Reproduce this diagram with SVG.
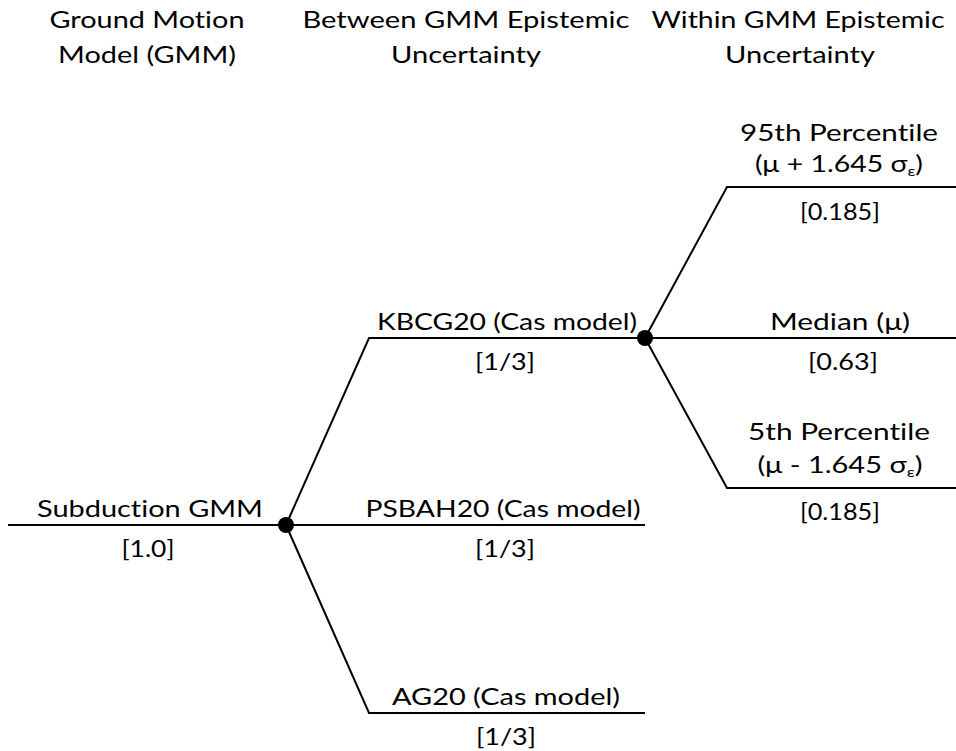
<svg xmlns="http://www.w3.org/2000/svg" width="956" height="751" viewBox="0 0 956 751">
<style>
text{font-family:Lato,"Open Sans","Liberation Sans",sans-serif;font-size:23px;fill:#000;text-anchor:middle;font-variant-ligatures:none;font-feature-settings:"liga" 0,"clig" 0,"dlig" 0,"calt" 0}
.ln{stroke:#000;stroke-width:2;fill:none}
.dot{fill:#000}
.sub{font-size:14px}
</style>
<rect width="956" height="751" fill="#fff"/>
<g id="headers">
<text x="147" y="28" textLength="195" lengthAdjust="spacingAndGlyphs">Ground Motion</text>
<text x="147" y="63" textLength="178" lengthAdjust="spacingAndGlyphs">Model (GMM)</text>
<text x="466" y="28" textLength="327" lengthAdjust="spacingAndGlyphs">Between GMM Epistemic</text>
<text x="466" y="63" textLength="150" lengthAdjust="spacingAndGlyphs">Uncertainty</text>
<text x="798" y="28" textLength="293" lengthAdjust="spacingAndGlyphs">Within GMM Epistemic</text>
<text x="800" y="63" textLength="150" lengthAdjust="spacingAndGlyphs">Uncertainty</text>
</g>
<g id="connectors">
<polyline class="ln" points="8,525 286,525"/>
<polyline class="ln" points="286,525 369,338 645,338"/>
<polyline class="ln" points="286,525 645,525"/>
<polyline class="ln" points="286,525 369,713 645,713"/>
<polyline class="ln" points="645,338 727,187 956,187"/>
<polyline class="ln" points="645,338 956,338"/>
<polyline class="ln" points="645,338 727,488 956,488"/>
</g>
<g id="node-subduction">
<circle class="dot" cx="286" cy="525" r="8"/>
<text x="150" y="517" textLength="226" lengthAdjust="spacingAndGlyphs">Subduction GMM</text>
<text x="148" y="557" textLength="53" lengthAdjust="spacingAndGlyphs">[1.0]</text>
</g>
<g id="node-kbcg20">
<circle class="dot" cx="645" cy="338" r="8"/>
<text x="507" y="330" textLength="260" lengthAdjust="spacingAndGlyphs">KBCG20 (Cas model)</text>
<text x="505" y="370" textLength="60" lengthAdjust="spacingAndGlyphs">[1/3]</text>
</g>
<g id="node-psbah20">
<text x="503" y="517" textLength="275" lengthAdjust="spacingAndGlyphs">PSBAH20 (Cas model)</text>
<text x="505" y="557" textLength="60" lengthAdjust="spacingAndGlyphs">[1/3]</text>
</g>
<g id="node-ag20">
<text x="506" y="705" textLength="228" lengthAdjust="spacingAndGlyphs">AG20 (Cas model)</text>
<text x="506" y="745" textLength="60" lengthAdjust="spacingAndGlyphs">[1/3]</text>
</g>
<g id="node-p95">
<text x="839" y="141" textLength="198" lengthAdjust="spacingAndGlyphs">95th Percentile</text>
<text x="839" y="172" textLength="168" lengthAdjust="spacingAndGlyphs">(μ + 1.645 σ<tspan class="sub" dy="4">ε</tspan><tspan dy="-4">)</tspan></text>
<text x="840" y="220" textLength="80" lengthAdjust="spacingAndGlyphs">[0.185]</text>
</g>
<g id="node-median">
<text x="840" y="330" textLength="140" lengthAdjust="spacingAndGlyphs">Median (μ)</text>
<text x="843" y="370" textLength="70" lengthAdjust="spacingAndGlyphs">[0.63]</text>
</g>
<g id="node-p5">
<text x="839" y="440" textLength="182" lengthAdjust="spacingAndGlyphs">5th Percentile</text>
<text x="840" y="473" textLength="165" lengthAdjust="spacingAndGlyphs">(μ - 1.645 σ<tspan class="sub" dy="4">ε</tspan><tspan dy="-4">)</tspan></text>
<text x="840" y="520" textLength="80" lengthAdjust="spacingAndGlyphs">[0.185]</text>
</g>
</svg>
